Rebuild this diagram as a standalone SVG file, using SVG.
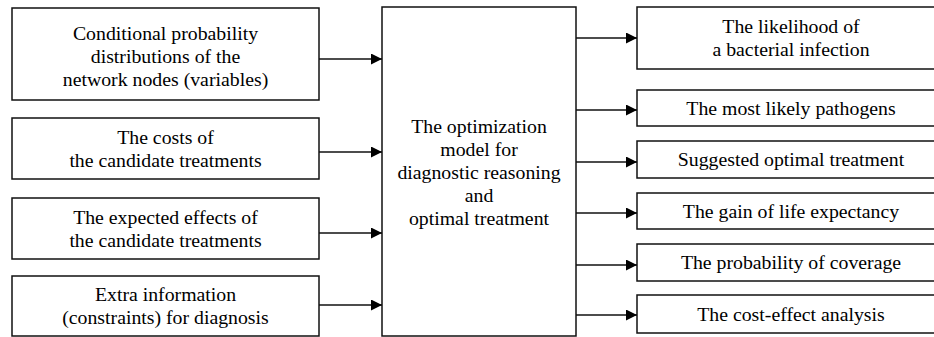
<svg xmlns="http://www.w3.org/2000/svg" width="934" height="337" viewBox="0 0 934 337">
<style>
rect{fill:#fff;stroke:#111;stroke-width:1.5}
text{font-family:"Liberation Serif","Times New Roman",serif;font-size:19.8px;fill:#000;text-anchor:middle}
.c line{stroke:#111;stroke-width:1.4}
</style>
<defs>
<marker id="ah" viewBox="0 0 10 10" refX="10" refY="5" markerWidth="12" markerHeight="11" markerUnits="userSpaceOnUse" orient="auto"><path d="M0,0L10,5L0,10z" fill="#000"/></marker>
</defs>
<rect x="0" y="0" width="934" height="337" style="stroke:none"/>
<g id="in1"><rect x="12" y="8" width="307" height="92"/><text x="165.5" y="40">Conditional probability</text><text x="165.5" y="63">distributions of the</text><text x="165.5" y="86">network nodes (variables)</text></g>
<g id="in2"><rect x="12" y="118" width="307" height="61"/><text x="165.5" y="144">The costs of</text><text x="165.5" y="167">the candidate treatments</text></g>
<g id="in3"><rect x="12" y="198" width="307" height="61"/><text x="165.5" y="224">The expected effects of</text><text x="165.5" y="247">the candidate treatments</text></g>
<g id="in4"><rect x="12" y="276" width="307" height="60"/><text x="165.5" y="301">Extra information</text><text x="165.5" y="324">(constraints) for diagnosis</text></g>
<g id="model"><rect x="382" y="7" width="194" height="329"/><text x="479" y="133">The optimization</text><text x="479" y="156">model for</text><text x="479" y="179">diagnostic reasoning</text><text x="479" y="202">and</text><text x="479" y="225">optimal treatment</text></g>
<g id="out1"><rect x="637" y="7" width="310" height="62"/><text x="791" y="33">The likelihood of</text><text x="791" y="56">a bacterial infection</text></g>
<g id="out2"><rect x="637" y="90" width="310" height="36"/><text x="791" y="114.5">The most likely pathogens</text></g>
<g id="out3"><rect x="637" y="141" width="310" height="37"/><text x="791" y="166">Suggested optimal treatment</text></g>
<g id="out4"><rect x="637" y="193" width="310" height="36"/><text x="791" y="217.5">The gain of life expectancy</text></g>
<g id="out5"><rect x="637" y="244" width="310" height="37"/><text x="791" y="269">The probability of coverage</text></g>
<g id="out6"><rect x="637" y="295" width="310" height="38"/><text x="791" y="320.5">The cost-effect analysis</text></g>
<g class="c" id="connectors">
<line x1="319" y1="59" x2="382" y2="59" marker-end="url(#ah)"/>
<line x1="319" y1="152" x2="382" y2="152" marker-end="url(#ah)"/>
<line x1="319" y1="233" x2="382" y2="233" marker-end="url(#ah)"/>
<line x1="319" y1="305" x2="382" y2="305" marker-end="url(#ah)"/>
<line x1="576" y1="38" x2="637" y2="38" marker-end="url(#ah)"/>
<line x1="576" y1="110" x2="637" y2="110" marker-end="url(#ah)"/>
<line x1="576" y1="162" x2="637" y2="162" marker-end="url(#ah)"/>
<line x1="576" y1="213" x2="637" y2="213" marker-end="url(#ah)"/>
<line x1="576" y1="265" x2="637" y2="265" marker-end="url(#ah)"/>
<line x1="576" y1="315" x2="637" y2="315" marker-end="url(#ah)"/>
</g>
</svg>
